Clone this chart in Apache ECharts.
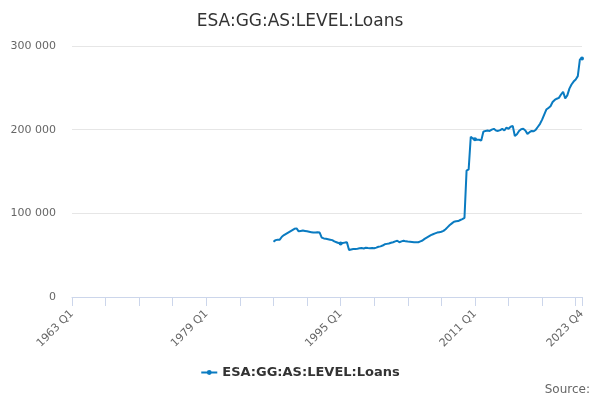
<!DOCTYPE html>
<html>
<head>
<meta charset="utf-8">
<script src="https://cdn.jsdelivr.net/npm/echarts@6/dist/echarts.min.js"></script>
<style>html,body{margin:0;padding:0;background:#fff}#c{width:600px;height:400px}</style>
</head>
<body>
<div id="c"></div>
<script>
var firstYear = 1963, lastYear = 2023;
var seriesStart = '1987 Q1';
var yTicks = [0, 100000, 200000, 300000];
var loans = [
  66, 68, 68.5, 68.5, 72, 74, 75.5, 77, 78.5, 80, 81.5, 82,
  78.5, 79, 79.5, 79, 78.5, 78, 77.5, 77, 77, 77.5, 77, 71,
  70, 69.5, 69, 68.5, 68, 66.5, 65.5, 64.5, 64, 64.5, 65, 65.3,
  56.2, 56.8, 57.3, 57.5, 57.8, 58.2, 58.5, 58, 58.9, 58.5, 58.2, 58.5,
  58.2, 59, 60, 60.5, 61.5, 63, 63.5, 64, 64.9, 65.5, 66.5, 67.3,
  65.5, 66.5, 67.3, 66.5, 66.2, 66, 65.8, 65.5, 65.3, 65.5, 66.5, 67.5,
  69.5, 71, 72.5, 74, 75, 76, 77, 77.5, 78, 79, 81, 83.5,
  86, 88, 90, 90.5, 90.8, 92, 93, 94.5, 151, 152.6, 191.5, 189.5,
  188.5, 188, 188, 187, 197.5, 198.5, 199, 198.5, 200, 201, 199, 198.5,
  199.5, 201, 199, 202.5, 201, 203.5, 204.5, 192.4, 194.5, 198.5, 200.5, 201,
  199, 195, 197, 198.5, 198, 200, 203.5, 207, 212, 218, 224, 226,
  228, 233, 235.5, 237, 238, 242, 245.3, 237.4, 241, 249, 254, 257.5,
  260, 264, 284, 285
];
var categories = [];
for (var y = firstYear; y <= lastYear; y++) {
  for (var q = 1; q <= 4; q++) categories.push(y + ' Q' + q);
}
var startIdx = categories.indexOf(seriesStart);
var data = categories.map(function (c, i) {
  var k = i - startIdx;
  return (k >= 0 && k < loans.length) ? loans[k] * 1000 : null;
});
var last = categories.length - 1;
var fmt = function (v) { return String(v).replace(/\B(?=(\d{3})+(?!\d))/g, ' '); };
var chart = echarts.init(document.getElementById('c'));
chart.setOption({
  animation: false,
  textStyle: { fontFamily: 'DejaVu Sans' },
  title: {
    text: 'ESA:GG:AS:LEVEL:Loans', left: 'center', top: 8,
    textStyle: { fontSize: 17, fontWeight: 'normal', color: '#333', fontFamily: 'DejaVu Sans' }
  },
  grid: { left: 72, right: 18, top: 46, bottom: 103 },
  xAxis: {
    type: 'category', data: categories, boundaryGap: false,
    axisLine: { lineStyle: { color: '#ccd6eb', width: 1 } },
    axisTick: { show: true, length: 9, lineStyle: { color: '#ccd6eb' },
      interval: function (i) { return i % 16 === 0 || i === last; } },
    axisLabel: { rotate: 45, color: '#666', fontSize: 11, margin: 15,
      interval: function (i) { return i % 64 === 0 || i === last; } },
    splitLine: { show: false }
  },
  yAxis: {
    type: 'value', min: yTicks[0], max: yTicks[yTicks.length - 1], interval: 100000,
    axisLine: { show: false }, axisTick: { show: false },
    axisLabel: { color: '#666', fontSize: 11, margin: 16, formatter: fmt },
    splitLine: { lineStyle: { color: '#e6e6e6' } }
  },
  legend: {
    bottom: 16, left: 'center', itemWidth: 16, itemHeight: 6, itemGap: 6,
    textStyle: { fontSize: 13, fontWeight: 'bold', color: '#333' }
  },
  graphic: [{
    type: 'text', right: 10, bottom: 4,
    style: { text: 'Source:', fontSize: 12, fill: '#666', fontFamily: 'DejaVu Sans' }
  }],
  series: [{
    name: 'ESA:GG:AS:LEVEL:Loans', type: 'line', data: data,
    connectNulls: false, symbol: 'circle', symbolSize: 4, showSymbol: true,
    itemStyle: { color: '#0a7bc1' },
    lineStyle: { color: '#0a7bc1', width: 2 }
  }]
});
</script>
</body>
</html>
